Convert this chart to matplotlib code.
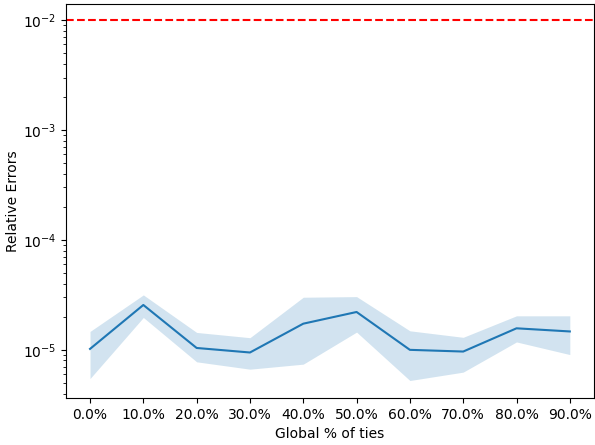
import numpy as np
import matplotlib.pyplot as plt

ties = [0, 10, 20, 30, 40, 50, 60, 70, 80, 90]
tick_labels = ["0.0%", "10.0%", "20.0%", "30.0%", "40.0%",
               "50.0%", "60.0%", "70.0%", "80.0%", "90.0%"]
err_mean = [1.02e-5, 2.56e-5, 1.04e-5, 0.946e-5, 1.73e-5,
            2.21e-5, 1.0e-5, 0.965e-5, 1.57e-5, 1.47e-5]
err_upper = [1.47e-5, 3.16e-5, 1.44e-5, 1.29e-5, 3.01e-5,
             3.05e-5, 1.49e-5, 1.30e-5, 2.04e-5, 2.04e-5]
err_lower = [0.548e-5, 1.97e-5, 0.778e-5, 0.667e-5, 0.741e-5,
             1.45e-5, 0.526e-5, 0.627e-5, 1.18e-5, 0.906e-5]
threshold = 1e-2

fig = plt.figure(figsize=[5.95, 4.45], dpi=100)
ax = fig.subplots()
fig.subplots_adjust(left=0.111, right=0.998, top=0.991, bottom=0.106)

ax.plot(tick_labels, err_mean, color='tab:blue')
ax.fill_between(tick_labels, err_lower, err_upper, color='tab:blue', alpha=0.2, linewidth=0)
ax.axhline(threshold, color='red', linestyle='--')
ax.set_yscale('log')
ax.set_ylim(3.66e-6, 1.4e-2)
ax.set_xlabel('Global % of ties')
ax.set_ylabel('Relative Errors', labelpad=2)

plt.savefig("out.png", format='png')
